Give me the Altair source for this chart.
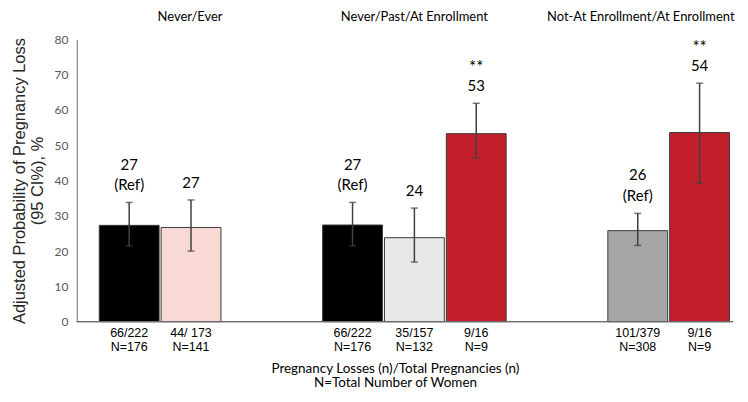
import altair as alt
import pandas as pd

group_order = ["Never/Ever", "Never/Past/At Enrollment", "Not-At Enrollment/At Enrollment"]
groups = ["Never/Ever", "Never/Ever",
          "Never/Past/At Enrollment", "Never/Past/At Enrollment", "Never/Past/At Enrollment",
          "Not-At Enrollment/At Enrollment", "Not-At Enrollment/At Enrollment"]
bars = ["Never", "Ever", "Never", "Past", "At Enrollment", "Not-At Enrollment", "At Enrollment"]
values = [27.3, 26.7, 27.4, 23.8, 53.3, 25.8, 53.6]
ci_low = [21.5, 20.0, 21.5, 16.9, 46.4, 21.6, 39.3]
ci_high = [33.8, 34.5, 33.8, 32.2, 61.9, 30.7, 67.6]
value_labels = ["27", "27", "27", "24", "53", "26", "54"]
notes = ["(Ref)", "", "(Ref)", "", "**", "(Ref)", "**"]
bottom_labels = ["66/222\nN=176", "44/ 173\nN=141", "66/222\nN=176", "35/157\nN=132",
                 "9/16\nN=9", "101/379\nN=308", "9/16\nN=9"]
colors = ["#000000", "#F9D9D4", "#000000", "#E8E8E8", "#C1202B", "#A6A6A6", "#C1202B"]
y_ticks = [0, 10, 20, 30, 40, 50, 60, 70, 80]
x_title = ["Pregnancy Losses (n)/Total Pregnancies (n)", "N=Total Number of Women"]
y_title = ["Adjusted Probability of Pregnancy Loss", "(95 CI%), %"]

W, H = 658, 283

df = pd.DataFrame({
    "group": groups, "bar": bars, "value": values, "lo": ci_low, "hi": ci_high,
    "vlab": value_labels, "note": notes, "bottom": bottom_labels,
})
df["id"] = [f"{g}|{b}" for g, b in zip(groups, bars)]
# slot within group: bars centred in a 5-slot grid
df["i"] = df.groupby("group").cumcount()
df["n"] = df.groupby("group")["bar"].transform("count")
df["slot"] = 2 * df["i"] + (3 - df["n"])

x_axis = alt.Axis(labels=False, ticks=False, domain=False, title=x_title,
                  titleFont="Lato", titleFontSize=13.5, titleFontWeight="normal",
                  titleColor="#000000", titlePadding=40, titleLineHeight=14, titleX=319)
x_scale = alt.Scale(domain=group_order, range=[6, 671], paddingInner=0.392, paddingOuter=0)
xo_scale = alt.Scale(domain=[0, 1, 2, 3, 4], paddingInner=0, paddingOuter=0)
y_scale = alt.Scale(domain=[0, 80], nice=False)
y_axis = alt.Axis(values=y_ticks, labelOverlap=False, grid=False, ticks=False,
                  labelFont="Lato", labelFontSize=12, labelColor="#595959", labelPadding=9,
                  domainColor="#6b6b6b", title=y_title, titleFont="Liberation Sans",
                  titleFontSize=16.5, titleFontWeight="normal", titleColor="#262626",
                  titlePadding=8, titleLineHeight=19)


def X():
    return alt.X("group:N", scale=x_scale, axis=x_axis)


def XO():
    return alt.XOffset("slot:O", scale=xo_scale)


def Y(field):
    return alt.Y(f"{field}:Q", scale=y_scale, axis=y_axis)


base = alt.Chart(df)

bar_layer = base.mark_bar(width=60, stroke="#3a3a3a", strokeWidth=1).encode(
    x=X(), xOffset=XO(), y=Y("value"),
    color=alt.Color("id:N", scale=alt.Scale(domain=list(df["id"]), range=colors), legend=None),
)

err_rule = base.mark_rule(color="#404040", strokeWidth=1.5).encode(
    x=X(), xOffset=XO(), y=Y("lo"), y2="hi:Q")
cap_hi = base.mark_tick(color="#404040", size=7, thickness=1.5).encode(
    x=X(), xOffset=XO(), y=Y("hi"))
cap_lo = base.mark_tick(color="#404040", size=7, thickness=1.5).encode(
    x=X(), xOffset=XO(), y=Y("lo"))

txt = dict(font="Lato", fontSize=15, baseline="bottom", color="#000000")
# value label directly above the error bar (no "(Ref)" note)
val_low = base.transform_filter("datum.note != '(Ref)'").mark_text(dy=-9, **txt).encode(
    x=X(), xOffset=XO(), y=Y("hi"), text="vlab:N")
# value label on the upper line (when "(Ref)" sits below it)
val_up = base.transform_filter("datum.note == '(Ref)'").mark_text(dy=-30, **txt).encode(
    x=X(), xOffset=XO(), y=Y("hi"), text="vlab:N")
ref_note = base.transform_filter("datum.note == '(Ref)'").mark_text(dy=-9, **txt).encode(
    x=X(), xOffset=XO(), y=Y("hi"), text="note:N")
star_note = base.transform_filter("datum.note == '**'").mark_text(
    font="Lato", fontSize=17, baseline="bottom", color="#000000", dy=-26).encode(
    x=X(), xOffset=XO(), y=Y("hi"), text="note:N")

bottom_text = base.mark_text(font="Liberation Sans", fontSize=12.5, baseline="top",
                             lineBreak="\n", lineHeight=14, color="#000000").encode(
    x=X(), xOffset=XO(), y=alt.value(H + 5), text="bottom:N")

gdf = pd.DataFrame({"group": group_order})
gtxt = dict(font="Lato", fontSize=13, baseline="middle", color="#000000")
group_layers = [
    alt.Chart(gdf).transform_filter(alt.datum.group == g).mark_text(dx=dx, **gtxt).encode(
        x=X(), y=alt.value(-22), text="group:N")
    for g, dx in zip(group_order, [30, 0, -28])
]

axis_line = alt.Chart(gdf).mark_rule(color="#6b6b6b", strokeWidth=1).encode(
    y=alt.Y(datum=0, scale=y_scale, axis=y_axis), x=alt.value(0), x2=alt.value(W))

chart = alt.layer(bar_layer, err_rule, cap_hi, cap_lo, val_low, val_up, ref_note, star_note,
                  bottom_text, *group_layers, axis_line).properties(
    width=W, height=H, padding={"left": 3, "top": 3, "right": 0, "bottom": 0}
).configure_view(stroke=None).configure_axisY(labelOverlap=False)

chart.save("out.html", embed_options={"renderer": "svg", "actions": False})
